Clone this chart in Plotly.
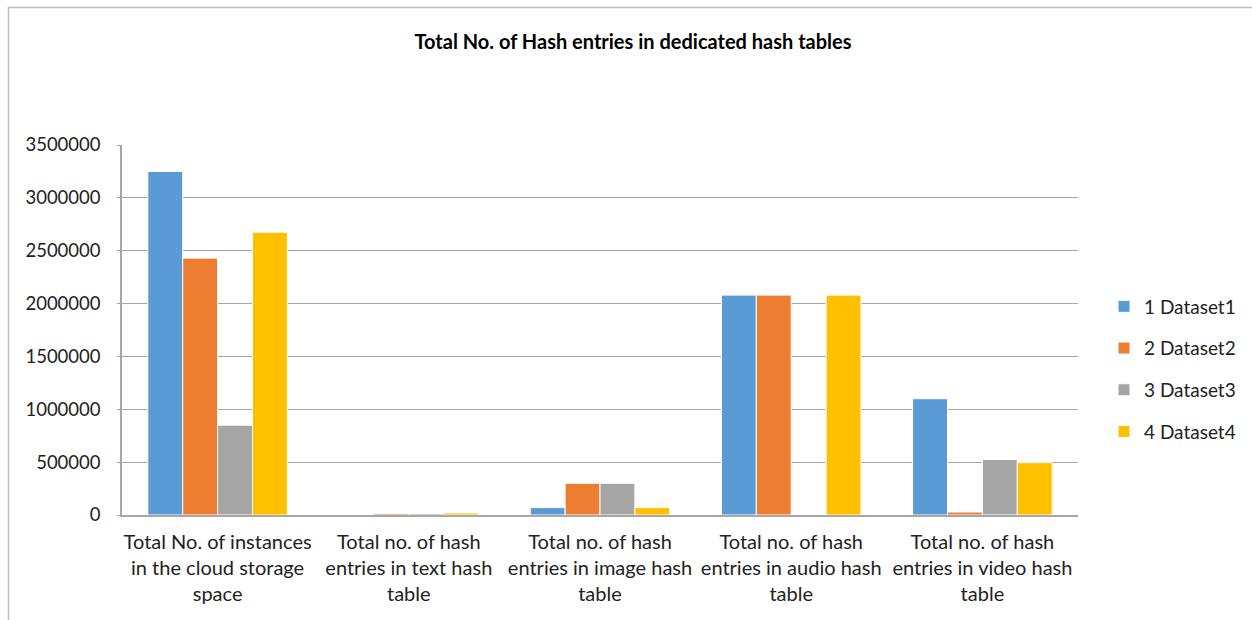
import plotly.graph_objects as go

categories = [
    "Total No. of instances<br>in the cloud storage<br>space",
    "Total no. of hash<br>entries in text hash<br>table",
    "Total no. of hash<br>entries in image hash<br>table",
    "Total no. of hash<br>entries in audio hash<br>table",
    "Total no. of hash<br>entries in video hash<br>table",
]
series_names = ["1 Dataset1", "2 Dataset2", "3 Dataset3", "4 Dataset4"]
dataset1 = [3250000, 0, 70000, 2080000, 1100000]
dataset2 = [2430000, 15000, 300000, 2080000, 28000]
dataset3 = [850000, 15000, 300000, 5000, 525000]
dataset4 = [2675000, 20000, 70000, 2080000, 495000]
colors = ["#5B9BD5", "#ED7D31", "#A5A5A5", "#FFC000"]
y_ticks = [0, 500000, 1000000, 1500000, 2000000, 2500000, 3000000, 3500000]

FONT = "Lato"
fig = go.Figure()
for i, (name, vals) in enumerate(zip(series_names, [dataset1, dataset2, dataset3, dataset4])):
    fig.add_trace(go.Bar(
        x=categories, y=vals, name=name, legendgroup=name,
        marker=dict(color=colors[i], line=dict(color="white", width=1)),
    ))

# plot area: x 122..1078, y 145..515
W, H = 1252, 620
L, R, T, B = 122, 1078, 145, 515
pw, ph = R - L, B - T
def px(x):
    return (x - L) / pw
def py(y):
    return (B - y) / ph

fig.add_shape(type="rect", xref="paper", yref="paper",
              x0=px(8.5), x1=px(1400), y0=py(800), y1=py(7.5),
              line=dict(color="#BFBFBF", width=1.5), fillcolor="rgba(0,0,0,0)", layer="below")

fig.update_layout(
    width=W, height=H,
    margin=dict(l=L, r=W - R, t=T, b=H - B, pad=0, autoexpand=False),
    paper_bgcolor="white", plot_bgcolor="white",
    font=dict(family=FONT, size=18, color="#222222"),
    title=dict(text="<b>Total No. of Hash entries in dedicated hash tables</b>",
               x=633 / W, xanchor="center", y=1 - 42 / H, yanchor="middle",
               font=dict(family=FONT, size=20, color="black")),
    barmode="group", bargap=0.27, bargroupgap=0,
    showlegend=True,
    legend=dict(x=px(1104), xanchor="left", y=py(369), yanchor="middle",
                font=dict(family=FONT, size=19, color="#222222"),
                tracegroupgap=14, bgcolor="rgba(0,0,0,0)"),
    xaxis=dict(showgrid=False, showline=True, linecolor="#A6A6A6", linewidth=1.5,
               ticks="", tickfont=dict(family=FONT, size=20, color="#222222"),
               ticklabelstandoff=8, fixedrange=True),
    yaxis=dict(range=[0, 3500000], tickvals=y_ticks, ticktext=[str(v) for v in y_ticks],
               showgrid=True, gridcolor="#A6A6A6", gridwidth=1.2,
               showline=True, linecolor="#A6A6A6", linewidth=1.5,
               ticks="outside", ticklen=3, tickcolor="#A6A6A6",
               zeroline=False,
               tickfont=dict(family=FONT, size=18.5, color="#222222"),
               ticklabelstandoff=13),
)
fig.write_html("out.html")
